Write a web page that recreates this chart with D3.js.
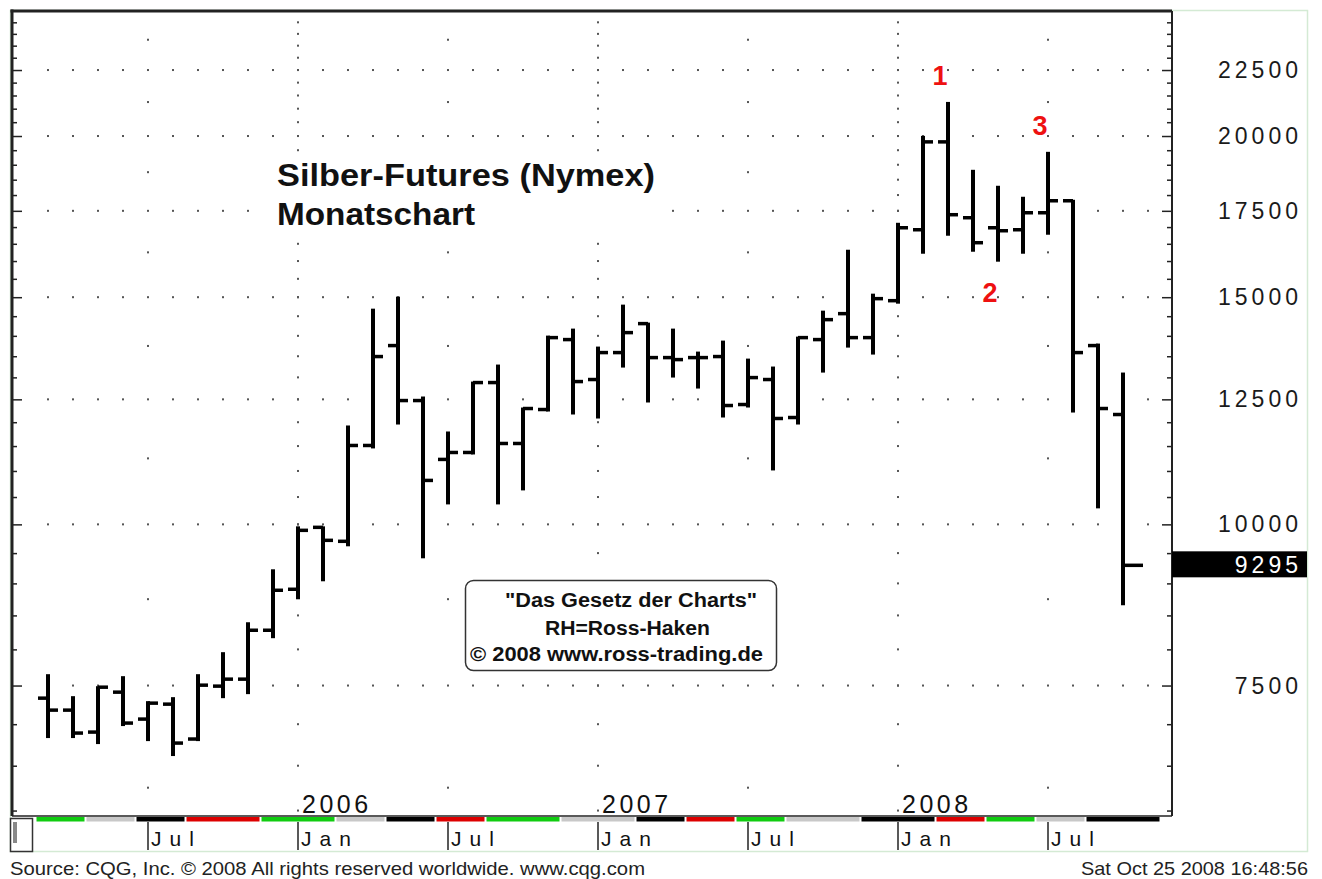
<!DOCTYPE html>
<html>
<head>
<meta charset="utf-8">
<script src="https://cdn.jsdelivr.net/npm/d3@7"></script>
<style>
  body { margin: 0; background: #fff; }
  svg { display: block; font-family: Arial, "Liberation Sans", sans-serif; }
</style>
</head>
<body>
<svg width="1322" height="879"></svg>
<script>
// Monthly silver futures bars (Mar 2005 - Oct 2008), values in US cents / 10
const months = [
  "Mar 05", "Apr 05", "May 05", "Jun 05", "Jul 05", "Aug 05", "Sep 05", "Oct 05", "Nov 05", "Dec 05",
  "Jan 06", "Feb 06", "Mar 06", "Apr 06", "May 06", "Jun 06", "Jul 06", "Aug 06", "Sep 06", "Oct 06",
  "Nov 06", "Dec 06", "Jan 07", "Feb 07", "Mar 07", "Apr 07", "May 07", "Jun 07", "Jul 07", "Aug 07",
  "Sep 07", "Oct 07", "Nov 07", "Dec 07", "Jan 08", "Feb 08", "Mar 08", "Apr 08", "May 08", "Jun 08",
  "Jul 08", "Aug 08", "Sep 08", "Oct 08"
];
const opens = [
  7333, 7178, 6902, 7412, 7064, 7255, 6817, 7492, 7586, 8278,
  8906, 9947, 9702, 11512, 13759, 12473, 11229, 11369, 12880, 11553,
  12275, 13907, 12950, 13588, 14309, 13467, 13467, 13492, 12385, 12950,
  12101, 13907, 14566, 13956, 14907, 16919, 19792, 17286, 16979, 16919,
  17440, 17817, 13759, 12166
];
const highs = [
  7640, 7346, 7478, 7613, 7281, 7333, 7640, 7946, 8382, 9213,
  9947, 9947, 11909, 14670, 14988, 12541, 11782, 12880, 13277, 12297,
  13981, 14157, 13710, 14776, 14309, 14157, 13588, 13857, 13419, 13230,
  13956, 14618, 16297, 15068, 17100, 19969, 21217, 18796, 18268, 17913,
  19409, 17817, 13784, 13089
];
const lows = [
  6841, 6841, 6768, 6989, 6804, 6625, 6804, 7346, 7399, 8176,
  8764, 9050, 9633, 11472, 11972, 9429, 10381, 11349, 10381, 10644,
  12253, 12188, 12101, 13253, 12452, 13019, 12766, 12123, 12341, 11030,
  11972, 13135, 13734, 13564, 14854, 16239, 16769, 16297, 16010, 16239,
  16799, 12231, 10308, 8671
];
const closes = [
  7178, 6890, 7478, 7014, 7268, 6768, 7505, 7586, 8278, 8890,
  9894, 9719, 11512, 13492, 12473, 10816, 11369, 12880, 11553, 12297,
  13956, 12903, 13588, 14081, 13467, 13419, 13467, 12363, 12995, 12080,
  13956, 14411, 13956, 14961, 16979, 19792, 17379, 16532, 16889, 17440,
  17817, 13588, 12297, 9295
];

// Axis labels
const priceTicks = [7500, 10000, 12500, 15000, 17500, 20000, 22500];
const monthTicks = ["Jul 05", "Jan 06", "Jul 06", "Jan 07", "Jul 07", "Jan 08", "Jul 08"];
const monthTickLabels = ["Jul", "Jan", "Jul", "Jan", "Jul", "Jan", "Jul"];
const yearTicks = ["Jan 06", "Jan 07", "Jan 08"];
const yearLabels = ["2006", "2007", "2008"];

// Colour strip under the plot (first month, number of months, colour)
const stripStart = [0, 2, 4, 6, 9, 12, 14, 16, 18, 21, 24, 26, 28, 30, 33, 36, 38, 40, 42];
const stripLength = [2, 2, 2, 3, 3, 2, 2, 2, 3, 3, 2, 2, 2, 3, 3, 2, 2, 2, 3];
const stripColor = [
  "green", "gray", "black", "red", "green", "gray", "black", "red", "green", "gray",
  "black", "red", "green", "gray", "black", "red", "green", "gray", "black"
];
const stripPalette = { green: "#10cc10", gray: "#c8c8c8", black: "#000000", red: "#dd0000" };

// Wave marks
const markLabels = ["1", "2", "3"];
const markMonths = ["Mar 08", "May 08", "Jul 08"];
const markSide = ["high", "low", "high"];

const svg = d3.select("svg");

// Scales: one slot per month, log price axis
const x = d3.scaleLinear().domain([0, 44]).range([48, 1148]);
const y = d3.scaleLog().domain([5942, 25000]).range([816, 11]);
const mx = m => x(months.indexOf(m));

const plotLeft = 12, plotRight = 1172, plotTop = 11, plotBottom = 816;

// Outer light green frame
svg.append("rect")
  .attr("x", 10.5).attr("y", 10.5)
  .attr("width", 1297).attr("height", 841)
  .attr("fill", "none")
  .attr("stroke", "#d4ead4")
  .attr("stroke-width", 1.5);

// Dotted grid: rows at the labelled prices, columns at Jan (every 500) and Jul (mid levels)
const dots = [];
priceTicks.forEach(p => {
  d3.range(0, 45).forEach(i => dots.push([x(i), y(p)]));
});
yearTicks.forEach(m => {
  d3.range(6000, 25000, 500).forEach(p => dots.push([mx(m), y(p)]));
});
monthTicks.filter(m => m.startsWith("Jul")).forEach(m => {
  d3.range(6250, 25000, 2500).forEach(p => dots.push([mx(m), y(p)]));
});
svg.append("g")
  .selectAll("rect")
  .data(dots)
  .enter()
  .append("rect")
  .attr("x", d => d[0] - 1)
  .attr("y", d => d[1] - 1)
  .attr("width", 2)
  .attr("height", 2)
  .attr("fill", "#555");

// Title with white backing (hides grid dots)
svg.append("rect")
  .attr("x", 268).attr("y", 156)
  .attr("width", 395).attr("height", 76)
  .attr("fill", "#fff");
const title = svg.append("g")
  .attr("font-weight", "bold")
  .attr("font-size", 32)
  .attr("fill", "#111");
title.append("text")
  .attr("x", 277).attr("y", 186)
  .attr("textLength", 378)
  .attr("lengthAdjust", "spacingAndGlyphs")
  .text("Silber-Futures (Nymex)");
title.append("text")
  .attr("x", 277).attr("y", 225)
  .attr("textLength", 198)
  .attr("lengthAdjust", "spacingAndGlyphs")
  .text("Monatschart");

// Copyright box
svg.append("rect")
  .attr("x", 465.5).attr("y", 580.5)
  .attr("width", 311).attr("height", 90)
  .attr("rx", 8).attr("ry", 8)
  .attr("fill", "#fff")
  .attr("stroke", "#333")
  .attr("stroke-width", 1.5);
const boxText = svg.append("g")
  .attr("font-weight", "bold")
  .attr("font-size", 20)
  .attr("fill", "#111");
boxText.append("text")
  .attr("x", 505).attr("y", 607)
  .attr("textLength", 252)
  .attr("lengthAdjust", "spacingAndGlyphs")
  .text("\"Das Gesetz der Charts\"");
boxText.append("text")
  .attr("x", 545).attr("y", 635)
  .attr("textLength", 165)
  .attr("lengthAdjust", "spacingAndGlyphs")
  .text("RH=Ross-Haken");
boxText.append("text")
  .attr("x", 470).attr("y", 661)
  .attr("textLength", 293)
  .attr("lengthAdjust", "spacingAndGlyphs")
  .text("© 2008 www.ross-trading.de");

// OHLC bars
const bars = svg.append("g")
  .attr("stroke", "#000")
  .attr("stroke-linecap", "butt");
months.forEach((m, i) => {
  const cx = x(i);
  bars.append("line")
    .attr("x1", cx).attr("x2", cx)
    .attr("y1", y(highs[i]) - 1).attr("y2", y(lows[i]) + 1)
    .attr("stroke-width", 4);
  bars.append("line")
    .attr("x1", cx - 10).attr("x2", cx)
    .attr("y1", y(opens[i])).attr("y2", y(opens[i]))
    .attr("stroke-width", 3.5);
  const closeLen = i === months.length - 1 ? 20 : 10; // current bar has a long close tick
  bars.append("line")
    .attr("x1", cx).attr("x2", cx + closeLen)
    .attr("y1", y(closes[i])).attr("y2", y(closes[i]))
    .attr("stroke-width", 3.5);
});

// Plot border
const frame = svg.append("g").attr("stroke", "#222");
frame.append("line")
  .attr("x1", plotLeft).attr("x2", plotLeft)
  .attr("y1", plotTop - 1.5).attr("y2", plotBottom)
  .attr("stroke-width", 3);
frame.append("line")
  .attr("x1", plotLeft - 1.5).attr("x2", plotRight)
  .attr("y1", plotTop).attr("y2", plotTop)
  .attr("stroke-width", 3);
frame.append("line")
  .attr("x1", plotRight).attr("x2", plotRight)
  .attr("y1", plotTop).attr("y2", plotBottom)
  .attr("stroke-width", 2);
frame.append("line")
  .attr("x1", plotLeft).attr("x2", plotRight)
  .attr("y1", plotBottom).attr("y2", plotBottom)
  .attr("stroke-width", 1.5);

// Tick marks on both price axes (minor every 500, major at labels)
const minorTicks = d3.range(6000, 25000, 500).filter(p => !priceTicks.includes(p));
function drawTicks(axisFn, xPos, values, size) {
  const g = svg.append("g")
    .attr("transform", `translate(${xPos},0)`)
    .call(axisFn(y).tickValues(values).tickSize(size).tickFormat(""));
  g.select(".domain").remove();
  g.selectAll(".tick line").attr("stroke", "#222").attr("stroke-width", 1.5);
}
drawTicks(d3.axisRight, plotLeft + 1, minorTicks, 4);
drawTicks(d3.axisRight, plotLeft + 1, priceTicks, 9);
drawTicks(d3.axisLeft, plotRight - 1, minorTicks, 4);
drawTicks(d3.axisLeft, plotRight - 1, priceTicks, 9);

// Price labels on the right
svg.append("g")
  .selectAll("text")
  .data(priceTicks)
  .enter()
  .append("text")
  .attr("x", 1302)
  .attr("y", d => y(d) + 8)
  .attr("text-anchor", "end")
  .attr("font-size", 23)
  .attr("letter-spacing", 4)
  .attr("fill", "#1a1a1a")
  .text(d => d);

// Last price box
const last = closes[closes.length - 1];
svg.append("rect")
  .attr("x", plotRight)
  .attr("y", y(last) - 14)
  .attr("width", 135)
  .attr("height", 26)
  .attr("fill", "#000");
svg.append("text")
  .attr("x", 1302)
  .attr("y", y(last) + 8)
  .attr("text-anchor", "end")
  .attr("font-size", 23)
  .attr("letter-spacing", 4)
  .attr("fill", "#fff")
  .text(last);

// Colour strip
svg.append("g")
  .selectAll("rect")
  .data(stripStart)
  .enter()
  .append("rect")
  .attr("x", (d, i) => x(d - 0.5) + 1)
  .attr("y", 817)
  .attr("width", (d, i) => x(d + stripLength[i] - 0.5) - x(d - 0.5) - 2)
  .attr("height", 4.5)
  .attr("fill", (d, i) => stripPalette[stripColor[i]]);

// Month labels with separators
const monthAxis = svg.append("g");
monthTicks.forEach((m, i) => {
  monthAxis.append("line")
    .attr("x1", mx(m)).attr("x2", mx(m))
    .attr("y1", 822).attr("y2", 850)
    .attr("stroke", "#222")
    .attr("stroke-width", 1.5);
  monthAxis.append("text")
    .attr("x", mx(m) + 3)
    .attr("y", 846)
    .attr("font-size", 21)
    .attr("letter-spacing", 8)
    .attr("fill", "#111")
    .text(monthTickLabels[i]);
});

// Year labels inside the plot bottom
svg.append("g")
  .selectAll("text")
  .data(yearTicks)
  .enter()
  .append("text")
  .attr("x", d => mx(d) + 4)
  .attr("y", 813)
  .attr("font-size", 25)
  .attr("letter-spacing", 3.5)
  .attr("fill", "#111")
  .text((d, i) => yearLabels[i]);

// Small scroll box in the bottom-left corner
svg.append("rect")
  .attr("x", 10.5).attr("y", 818.5)
  .attr("width", 22).attr("height", 33)
  .attr("fill", "#fff")
  .attr("stroke", "#333")
  .attr("stroke-width", 1.5);
svg.append("rect")
  .attr("x", 13).attr("y", 822)
  .attr("width", 4).attr("height", 21)
  .attr("fill", "#888");

// Footer
svg.append("text")
  .attr("x", 10).attr("y", 875)
  .attr("font-size", 18.5)
  .attr("fill", "#222")
  .attr("textLength", 635)
  .attr("lengthAdjust", "spacingAndGlyphs")
  .text("Source: CQG, Inc. © 2008 All rights reserved worldwide. www.cqg.com");
svg.append("text")
  .attr("x", 1081).attr("y", 875)
  .attr("font-size", 18.5)
  .attr("fill", "#222")
  .attr("textLength", 227)
  .attr("lengthAdjust", "spacingAndGlyphs")
  .text("Sat Oct 25 2008 16:48:56");

// Red wave counts
svg.append("g")
  .selectAll("text")
  .data(markLabels)
  .enter()
  .append("text")
  .attr("x", (d, i) => mx(markMonths[i]) - 8)
  .attr("y", (d, i) => {
    const k = months.indexOf(markMonths[i]);
    return markSide[i] === "high" ? y(highs[k]) - 18 : y(lows[k]) + 41;
  })
  .attr("text-anchor", "middle")
  .attr("font-size", 27)
  .attr("font-weight", "bold")
  .attr("fill", "#ee1111")
  .text(d => d);
</script>
</body>
</html>
